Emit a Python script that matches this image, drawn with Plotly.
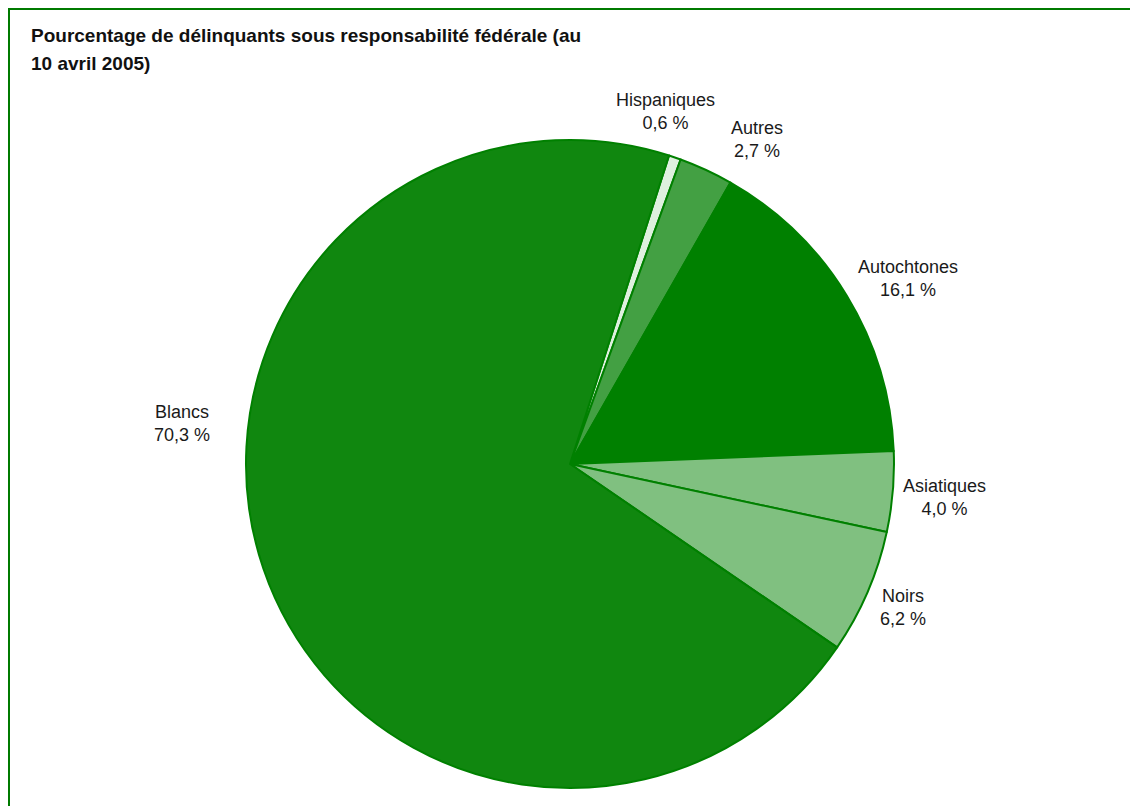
import plotly.graph_objects as go

# Data
categories = ["Hispaniques", "Autres", "Autochtones", "Asiatiques", "Noirs", "Blancs"]
percentages = [0.6, 2.7, 16.1, 4.0, 6.2, 70.3]
slice_colors = ["#dff0df", "#43a043", "#008000", "#80c080", "#80c080", "#10870f"]
title_lines = ["Pourcentage de délinquants sous responsabilité fédérale (au", "10 avril 2005)"]

W, H = 1130, 806

# Label anchor points (pixel centres of each two-line label)
label_px = {
    "Hispaniques": (665, 112),
    "Autres": (757, 139),
    "Autochtones": (908, 278),
    "Asiatiques": (944, 497),
    "Noirs": (903, 607),
    "Blancs": (182, 423),
}

# Pie footprint in pixels
pie_left, pie_right, pie_top, pie_bottom = 246, 894, 140, 788

fig = go.Figure(
    go.Pie(
        labels=categories,
        values=percentages,
        sort=False,
        direction="clockwise",
        rotation=17.8,
        marker=dict(colors=slice_colors, line=dict(color="#008000", width=2)),
        textinfo="none",
        hoverinfo="label+percent",
        showlegend=False,
        domain=dict(
            x=[pie_left / W, pie_right / W],
            y=[1 - pie_bottom / H, 1 - pie_top / H],
        ),
    )
)


def fmt(v):
    return f"{v:.1f}".replace(".", ",") + " %"


annotations = []
for cat, val in zip(categories, percentages):
    px, py = label_px[cat]
    annotations.append(
        dict(
            x=px / W, y=1 - py / H, xref="paper", yref="paper",
            text=f"{cat}<br>{fmt(val)}", showarrow=False,
            xanchor="center", yanchor="middle", align="center",
            font=dict(family="Liberation Sans, Arial, sans-serif", size=18, color="#1a1a1a"),
        )
    )

# Two-line bold title, one annotation per line for exact line spacing
for line, py in zip(title_lines, [35, 63]):
    annotations.append(
        dict(
            x=29 / W, y=1 - py / H, xref="paper", yref="paper",
            text=f"<b>{line}</b>",
            showarrow=False, xanchor="left", yanchor="middle", align="left",
            font=dict(family="Liberation Sans, Arial, sans-serif", size=19, color="#111111"),
        )
    )

# Frame lines along the top and left edges
shapes = [
    dict(type="line", xref="paper", yref="paper", x0=8 / W, x1=1, y0=1 - 9 / H, y1=1 - 9 / H,
         line=dict(color="#007a00", width=2)),
    dict(type="line", xref="paper", yref="paper", x0=9 / W, x1=9 / W, y0=0, y1=1 - 8 / H,
         line=dict(color="#007a00", width=2)),
]

fig.update_layout(
    width=W, height=H,
    margin=dict(l=0, r=0, t=0, b=0),
    paper_bgcolor="white",
    plot_bgcolor="white",
    annotations=annotations,
    shapes=shapes,
)

fig.write_html("out.html")
